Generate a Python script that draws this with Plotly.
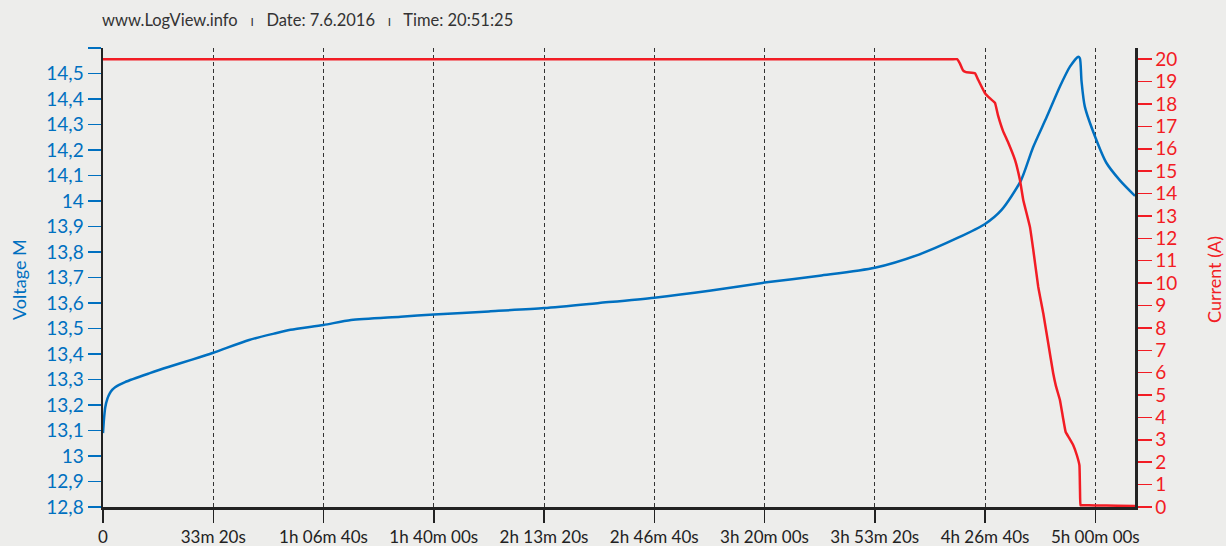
import plotly.graph_objects as go

# ---- data ----
time_v = [0, 20, 40, 80, 120, 170, 220, 400, 850, 1200, 1600, 2000, 2650, 3100, 3400, 4000,
          4500, 5400, 6000, 7000, 8000, 9000, 10000, 11000, 12000, 13000, 14000, 14800,
          15500, 16000, 16300, 16650, 16870, 17120, 17360, 17540, 17690, 17720, 17750,
          17810, 18000, 18200, 18450, 18720]
voltage = [13.09, 13.15, 13.19, 13.225, 13.245, 13.26, 13.27, 13.29, 13.325, 13.35, 13.377,
           13.405, 13.455, 13.48, 13.495, 13.514, 13.533, 13.546, 13.555, 13.567, 13.58,
           13.60, 13.621, 13.648, 13.68, 13.707, 13.738, 13.79, 13.855, 13.91, 13.965,
           14.08, 14.21, 14.33, 14.45, 14.527, 14.566, 14.56, 14.47, 14.37, 14.25, 14.15,
           14.08, 14.02]

time_c = [0, 4000, 8000, 12000, 15000, 15400, 15490, 15545, 15600, 15654, 15817, 15871,
          15999, 16090, 16180, 16234, 16325, 16416, 16543, 16633, 16693, 16815, 16875,
          16965, 17056, 17147, 17237, 17286, 17359, 17413, 17462, 17522, 17600, 17667,
          17712, 17722, 17731, 17760, 18000, 18400, 18720]
current = [20.0, 20.0, 20.0, 20.0, 20.0, 20.0, 20.0, 19.8, 19.5, 19.42, 19.37, 19.1,
           18.48, 18.25, 18.05, 17.5, 16.8, 16.3, 15.5, 14.6, 13.71, 12.5, 11.48, 9.83,
           8.65, 7.30, 5.96, 5.4, 4.77, 4.0, 3.35, 3.1, 2.76, 2.3, 1.86, 0.8, 0.08, 0.08,
           0.07, 0.06, 0.05]

x_tickvals = [0, 2000, 4000, 6000, 8000, 10000, 12000, 14000, 16000, 18000]
x_ticktext = ["0", "33m 20s", "1h 06m 40s", "1h 40m 00s", "2h 13m 20s", "2h 46m 40s",
              "3h 20m 00s", "3h 53m 20s", "4h 26m 40s", "5h 00m 00s"]
v_tickvals = [12.8, 12.9, 13.0, 13.1, 13.2, 13.3, 13.4, 13.5, 13.6, 13.7, 13.8, 13.9, 14.0,
              14.1, 14.2, 14.3, 14.4, 14.5, 14.6]
v_ticktext = ["12,8", "12,9", "13", "13,1", "13,2", "13,3", "13,4", "13,5", "13,6", "13,7",
              "13,8", "13,9", "14", "14,1", "14,2", "14,3", "14,4", "14,5", ""]
c_tickvals = list(range(0, 21))

BLUE = "#0070C0"
RED = "#F21C24"
BG = "#EDEDEB"
FONT = "Lato"

L, R, T, B = 103, 91, 48, 39
PW = 1226 - L - R
PH = 546 - T - B

fig = go.Figure()
fig.add_trace(go.Scatter(x=time_v, y=voltage, mode="lines", name="Voltage M",
                         line=dict(color=BLUE, width=2.5, shape="spline", smoothing=0.7),
                         yaxis="y"))
fig.add_trace(go.Scatter(x=time_c, y=current, mode="lines", name="Current (A)",
                         line=dict(color=RED, width=2.5, shape="spline", smoothing=0.3),
                         yaxis="y2"))

fig.update_layout(
    template="none",
    width=1226, height=546,
    margin=dict(l=L, r=R, t=T, b=B, autoexpand=False),
    paper_bgcolor=BG, plot_bgcolor=BG,
    showlegend=False,
    font=dict(family=FONT, size=18, color="#222"),
    xaxis=dict(
        range=[0, 18720], tickvals=x_tickvals, ticktext=x_ticktext,
        showline=True, linecolor="#222", linewidth=2.5,
        ticks="outside", ticklen=13, tickwidth=1.5, tickcolor="#222",
        tickfont=dict(family=FONT, size=17, color="#222"),
        showgrid=True, gridcolor="#333", gridwidth=1, griddash="4px,3px",
        zeroline=False, automargin=False,
    ),
    yaxis=dict(
        range=[12.8, 14.6], tickvals=v_tickvals, ticktext=v_ticktext,
        showline=True, linecolor="#222", linewidth=2.5,
        ticks="outside", ticklen=13, tickwidth=1.5, tickcolor=BLUE,
        tickfont=dict(family=FONT, size=19, color=BLUE),
        showgrid=False, zeroline=False, automargin=False,
    ),
    yaxis2=dict(
        range=[0, 20.5], tickvals=c_tickvals, overlaying="y", side="right",
        showline=True, linecolor="#222", linewidth=2.5,
        ticks="outside", ticklen=14, tickwidth=1.5, tickcolor=RED,
        tickfont=dict(family=FONT, size=19, color=RED),
        showgrid=False, zeroline=False, automargin=False,
    ),
)

# header text
fig.add_annotation(
    xref="paper", yref="paper", x=(100 - L) / PW, y=1 + (T - 20) / PH,
    xanchor="left", yanchor="middle", showarrow=False,
    text="www.LogView.info\u00a0\u00a0\u00a0<span style='font-size:12px'>I</span>\u00a0\u00a0\u00a0Date: 7.6.2016"
         "\u00a0\u00a0\u00a0<span style='font-size:12px'>I</span>\u00a0\u00a0\u00a0Time: 20:51:25",
    font=dict(family=FONT, size=16.5, color="#333"),
)
# axis titles
fig.add_annotation(
    xref="paper", yref="paper", x=(19 - L) / PW, y=(546 - B - 280) / PH,
    xanchor="center", yanchor="middle", showarrow=False, textangle=-90,
    text="Voltage M", font=dict(family=FONT, size=18, color=BLUE),
)
fig.add_annotation(
    xref="paper", yref="paper", x=(1214 - L) / PW, y=(546 - B - 280) / PH,
    xanchor="center", yanchor="middle", showarrow=False, textangle=-90,
    text="Current (A)", font=dict(family=FONT, size=18, color=RED),
)

# remove the default 8px page margin so the figure fills the window exactly
fig.write_html(
    "out.html",
    config={"displayModeBar": False, "staticPlot": True},
    post_script="document.body.style.margin='0';document.body.style.background='#EDEDEB';",
)
